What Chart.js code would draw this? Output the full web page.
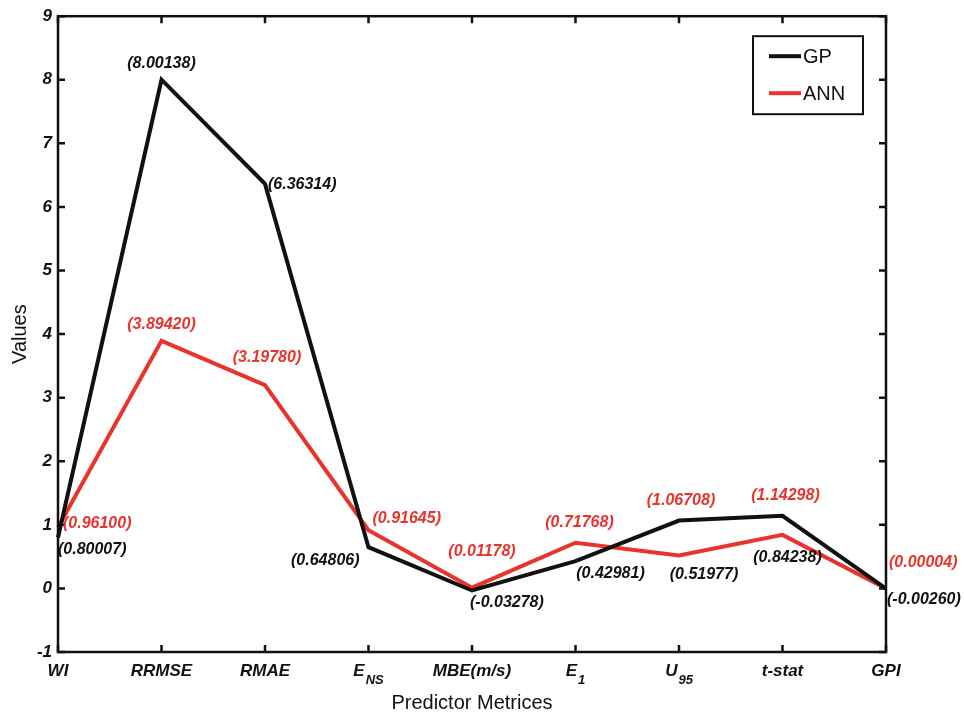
<!DOCTYPE html>
<html>
<head>
<meta charset="utf-8">
<script src="https://cdn.jsdelivr.net/npm/chart.js@4.4.0/dist/chart.umd.min.js"></script>
<style>
  html, body { margin: 0; padding: 0; background: #fff; }
  #wrap { width: 964px; height: 719px; }
</style>
</head>
<body>
<div id="wrap"><canvas id="metricsChart" width="964" height="719"></canvas></div>
<script>
// Chart data
const categories = ['WI', 'RRMSE', 'RMAE', 'ENS', 'MBE(m/s)', 'E1', 'U95', 't-stat', 'GPI'];
const tickMain = ['WI', 'RRMSE', 'RMAE', 'E', 'MBE(m/s)', 'E', 'U', 't-stat', 'GPI'];
const tickSub = ['', '', '', 'NS', '', '1', '95', '', ''];
const gpValues = [0.80007, 8.00138, 6.36314, 0.64806, -0.03278, 0.42981, 1.06708, 1.14298, -0.00260];
const annValues = [0.96100, 3.89420, 3.19780, 0.91645, 0.01178, 0.71768, 0.51977, 0.84238, 0.00004];
const yTicks = [-1, 0, 1, 2, 3, 4, 5, 6, 7, 8, 9];

const BLACK = '#111111';
const RED = '#e8342c';
const FONT = '"Liberation Sans", Arial, sans-serif';

// Value labels: which series point they sit next to, their colour and offset
const valueLabels = [
  { series: 'gp', i: 0, color: BLACK, align: 'left', dx: 0, dy: 12 },
  { series: 'ann', i: 0, color: RED, align: 'left', dx: 5, dy: -4 },
  { series: 'gp', i: 1, color: BLACK, align: 'center', dx: 0, dy: -16 },
  { series: 'gp', i: 2, color: BLACK, align: 'left', dx: 3, dy: 1 },
  { series: 'ann', i: 1, color: RED, align: 'center', dx: 0, dy: -16 },
  { series: 'ann', i: 2, color: RED, align: 'center', dx: 2, dy: -28 },
  { series: 'gp', i: 3, color: BLACK, align: 'right', dx: -9, dy: 13 },
  { series: 'ann', i: 3, color: RED, align: 'left', dx: 4, dy: -12 },
  { series: 'ann', i: 4, color: RED, align: 'center', dx: 10, dy: -36 },
  { series: 'gp', i: 4, color: BLACK, align: 'left', dx: -2, dy: 12 },
  { series: 'ann', i: 5, color: RED, align: 'center', dx: 4, dy: -20 },
  { series: 'gp', i: 5, color: BLACK, align: 'center', dx: 35, dy: 13 },
  { series: 'gp', i: 6, color: RED, align: 'center', dx: 2, dy: -20 },
  { series: 'ann', i: 6, color: BLACK, align: 'center', dx: 25, dy: 19 },
  { series: 'gp', i: 7, color: RED, align: 'center', dx: 3, dy: -20 },
  { series: 'ann', i: 7, color: BLACK, align: 'center', dx: 5, dy: 23 },
  { series: 'ann', i: 8, color: RED, align: 'left', dx: 3, dy: -26 },
  { series: 'gp', i: 8, color: BLACK, align: 'left', dx: 1, dy: 11 }
];

// Frame, inward ticks, subscript x labels, value labels and legend box
const overlay = {
  id: 'overlay',
  afterDraw(chart) {
    const { ctx, chartArea: a, scales: { x, y } } = chart;
    ctx.save();

    // tick marks on all four sides
    ctx.strokeStyle = BLACK;
    ctx.lineWidth = 2.5;
    ctx.beginPath();
    categories.forEach((c, i) => {
      const px = x.getPixelForValue(i);
      ctx.moveTo(px, a.bottom); ctx.lineTo(px, a.bottom - 7);
      ctx.moveTo(px, a.top); ctx.lineTo(px, a.top + 7);
    });
    yTicks.forEach(v => {
      const py = y.getPixelForValue(v);
      ctx.moveTo(a.left, py); ctx.lineTo(a.left + 7, py);
      ctx.moveTo(a.right, py); ctx.lineTo(a.right - 7, py);
    });
    ctx.stroke();
    ctx.strokeRect(a.left, a.top, a.right - a.left, a.bottom - a.top);

    // x tick labels with subscripts
    ctx.fillStyle = BLACK;
    ctx.textBaseline = 'middle';
    ctx.textAlign = 'left';
    categories.forEach((c, i) => {
      const px = x.getPixelForValue(i);
      ctx.font = 'italic bold 17px ' + FONT;
      const wMain = ctx.measureText(tickMain[i]).width;
      ctx.font = 'italic bold 13px ' + FONT;
      const wSub = tickSub[i] ? ctx.measureText(tickSub[i]).width + 1 : 0;
      const start = px - (wMain + wSub) / 2;
      ctx.font = 'italic bold 17px ' + FONT;
      ctx.fillText(tickMain[i], start, a.bottom + 19);
      if (tickSub[i]) {
        ctx.font = 'italic bold 13px ' + FONT;
        ctx.fillText(tickSub[i], start + wMain + 1, a.bottom + 28);
      }
    });

    // value labels
    ctx.font = 'italic bold 16px ' + FONT;
    valueLabels.forEach(l => {
      const vals = l.series === 'gp' ? gpValues : annValues;
      const px = x.getPixelForValue(l.i) + l.dx;
      const py = y.getPixelForValue(vals[l.i]) + l.dy;
      ctx.fillStyle = l.color;
      ctx.textAlign = l.align;
      ctx.fillText('(' + vals[l.i].toFixed(5) + ')', px, py);
    });

    // legend
    const bx = a.right - 133, by = a.top + 20, bw = 110, bh = 78;
    ctx.fillStyle = '#fff';
    ctx.fillRect(bx, by, bw, bh);
    ctx.lineWidth = 2;
    ctx.strokeStyle = BLACK;
    ctx.strokeRect(bx, by, bw, bh);
    chart.data.datasets.forEach((ds, k) => {
      const ly = by + 20 + k * 37;
      ctx.strokeStyle = ds.borderColor;
      ctx.lineWidth = 4;
      ctx.beginPath();
      ctx.moveTo(bx + 16, ly); ctx.lineTo(bx + 48, ly);
      ctx.stroke();
      ctx.fillStyle = BLACK;
      ctx.textAlign = 'left';
      ctx.font = '20px ' + FONT;
      ctx.fillText(ds.label, bx + 50, ly + 1);
    });

    ctx.restore();
  }
};

const ctx = document.getElementById('metricsChart').getContext('2d');
const metricsChart = new Chart(ctx, {
  type: 'line',
  data: {
    labels: categories,
    datasets: [
      {
        label: 'GP',
        data: gpValues,
        borderColor: BLACK,
        borderWidth: 4,
        pointRadius: 0,
        tension: 0,
        fill: false
      },
      {
        label: 'ANN',
        data: annValues,
        borderColor: RED,
        borderWidth: 4,
        pointRadius: 0,
        tension: 0,
        fill: false
      }
    ]
  },
  options: {
    responsive: false,
    animation: false,
    layout: { padding: { top: 12, right: 78, left: 0, bottom: 0 } },
    plugins: {
      legend: { display: false },
      tooltip: { enabled: false }
    },
    scales: {
      x: {
        offset: false,
        grid: { display: false },
        border: { display: false },
        ticks: { display: false },
        title: {
          display: true,
          text: 'Predictor Metrices',
          color: BLACK,
          font: { family: FONT, size: 20 },
          padding: { top: 0, bottom: 4 }
        },
        afterFit(scale) { scale.height = 67; }
      },
      y: {
        min: -1,
        max: 9,
        grid: { display: false, drawTicks: false },
        border: { display: false },
        afterBuildTicks(scale) { scale.ticks = yTicks.map(v => ({ value: v })); },
        ticks: {
          color: BLACK,
          padding: 6,
          font: { family: FONT, size: 17, style: 'italic', weight: 'bold' }
        },
        title: {
          display: true,
          text: 'Values',
          color: BLACK,
          font: { family: FONT, size: 20 },
          padding: { top: 8, bottom: 0 }
        },
        afterFit(scale) { scale.width = 58; }
      }
    }
  },
  plugins: [overlay]
});
</script>
</body>
</html>
